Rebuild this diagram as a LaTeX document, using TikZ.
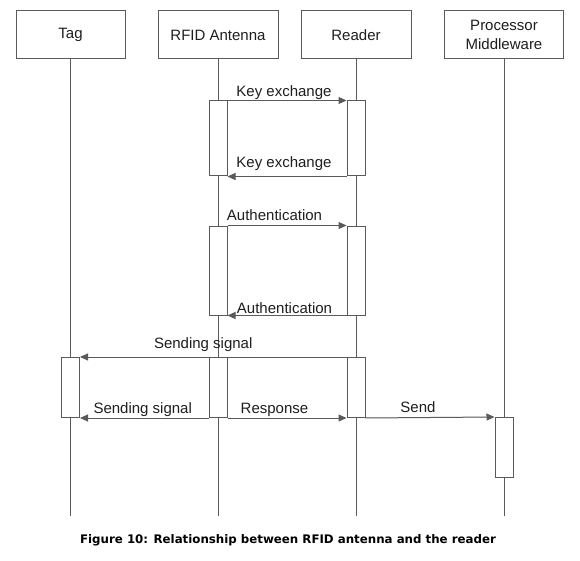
\documentclass[tikz,border=0pt]{standalone}
\usepackage{fontspec}
\setmainfont{Liberation Sans}
\newfontfamily\capfont{DejaVu Sans}
\usetikzlibrary{arrows.meta}
\definecolor{ln}{HTML}{5A5A5A}
\definecolor{tx}{HTML}{1E1E1E}
\tikzset{
  head/.style={draw=ln, line width=1pt, fill=white, inner sep=0pt, minimum height=48pt, text=tx, font=\fontsize{15}{18}\selectfont, align=center},
  life/.style={draw=ln, line width=1pt},
  act/.style={draw=ln, line width=1pt, fill=white, inner sep=0pt, minimum width=18pt},
  msg/.style={draw=ln, line width=1pt, -{Triangle[length=8pt,width=7pt]}, fill=ln},
  lbl/.style={text=tx, font=\fontsize{15}{18}\selectfont, anchor=base, inner sep=0pt, fill=none}
}
\begin{document}
\begin{tikzpicture}[x=1pt,y=-1pt]
\useasboundingbox[fill=white] (0,0) rectangle (580,561);
% headers
\node[head, minimum width=109pt] (tag) at (70.5,35) {Tag};
\node[head, minimum width=120pt] (ant) at (218,35) {RFID Antenna};
\node[head, minimum width=110pt] (rdr) at (356,35) {Reader};
\node[head, minimum width=119pt] (prc) at (504,35) {Processor\\[1pt]Middleware};
% lifeline ends
\coordinate (tagE) at (70.5,516);
\coordinate (antE) at (218,516);
\coordinate (rdrE) at (356,516);
\coordinate (prcE) at (504,516);
\draw[life] (tag.south) -- (tagE);
\draw[life] (ant.south) -- (antE);
\draw[life] (rdr.south) -- (rdrE);
\draw[life] (prc.south) -- (prcE);
% activations
\node[act, minimum height=75pt] (a1) at (218,138.5) {};
\node[act, minimum height=75pt] (r1) at (356,138.5) {};
\node[act, minimum height=89pt] (a2) at (218,270.5) {};
\node[act, minimum height=89pt] (r2) at (356,270.5) {};
\node[act, minimum height=60pt] (t3) at (70.5,387.5) {};
\node[act, minimum height=60pt] (a3) at (218,387.5) {};
\node[act, minimum height=60pt] (r3) at (356,387.5) {};
\node[act, minimum height=60pt] (p4) at (504,447.5) {};
% messages
\draw[msg] (a1.north east) -- (r1.north west)
  node[lbl, midway, yshift=4pt, xshift=-3pt] {Key exchange};
\draw[msg] (r1.south west) -- (a1.south east)
  node[lbl, midway, yshift=8.5pt, xshift=-3pt] {Key exchange};
\draw[msg] (a2.north east) -- (r2.north west)
  node[lbl, midway, yshift=5pt, xshift=-12.5pt] {Authentication};
\draw[msg] (r2.south west) -- (a2.south east)
  node[lbl, midway, yshift=2.5pt, xshift=-2.5pt] {Authentication};
\draw[msg] (r3.north west) -- (t3.north east)
  node[lbl, midway, yshift=8.5pt, xshift=-10pt] {Sending signal};
\draw[msg] (a3.south west) -- (t3.south east)
  node[lbl, midway, yshift=5pt, xshift=-1.5pt] {Sending signal};
\draw[msg] (a3.south east) -- (r3.south west)
  node[lbl, midway, yshift=5pt, xshift=-12.5pt] {Response};
\draw[msg] (r3.south east) -- (p4.north west)
  node[lbl, midway, yshift=5pt, xshift=-12pt] {Send};
% caption
\node[anchor=base, inner sep=0pt, text=black, font=\capfont\bfseries\fontsize{11.8}{14}\selectfont] (cap) at (288,543) {Figure 10: Relationship between RFID antenna and the reader};
\end{tikzpicture}
\end{document}
